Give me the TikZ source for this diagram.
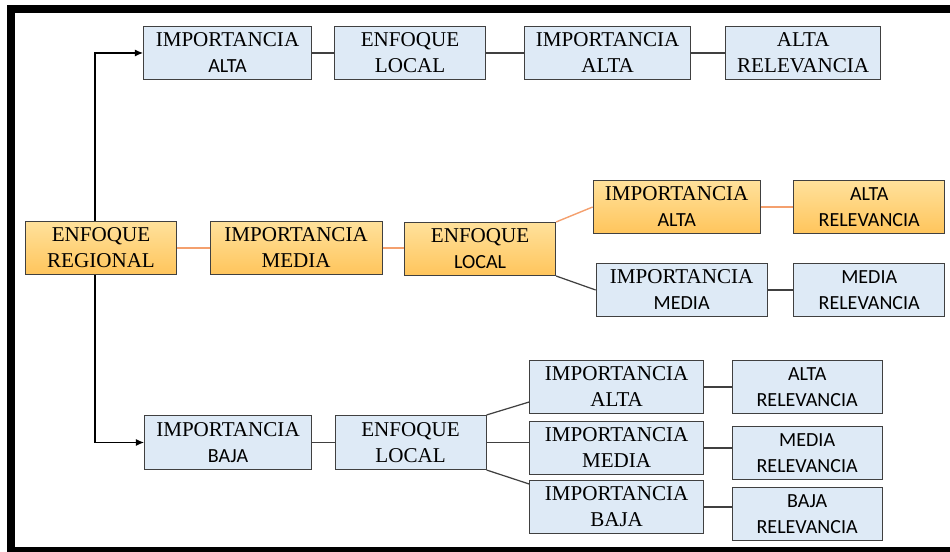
\documentclass[tikz,border=0pt]{standalone}
\usepackage{fontspec}
\setmainfont{Liberation Serif}
\newfontfamily\calib[Scale=0.95]{Carlito}
\usetikzlibrary{positioning,arrows.meta}
\definecolor{azulclaro}{RGB}{222,234,246}
\definecolor{naranjaalto}{RGB}{255,225,155}
\definecolor{naranjabajo}{RGB}{255,197,92}
\definecolor{gris}{RGB}{64,64,64}
\definecolor{lineanaranja}{RGB}{244,160,110}
\tikzset{
    every node/.style={font=\fontsize{12}{14.8}\selectfont},
    azul/.style={draw=gris, fill=azulclaro, line width=0.6pt, align=center, minimum height=1.06cm, inner sep=1pt},
    naranja/.style={draw=gris, top color=naranjaalto, bottom color=naranjabajo, line width=0.6pt, align=center, minimum height=1.06cm, inner sep=1pt},
    sans/.style={font=\fontsize{12}{14.8}\selectfont\calib},
    enlace/.style={draw=gris, line width=0.7pt},
    enlacenar/.style={draw=lineanaranja, line width=0.8pt},
    flecha/.style={-{Latex[length=1.6mm,width=1.4mm]}, draw=black, line width=0.6pt},
}

\begin{document}
\begin{tikzpicture}
   \useasboundingbox (0,0) rectangle (19,-11.04);
% marco negro (sin lado derecho)
   \draw[line width=0.16cm] (19,-0.18) -- (0.22,-0.18) -- (0.22,-11.01) -- (19,-11.01);
% fila superior
   \node[azul, minimum width=3.36cm] (ia1) at (4.55,-1.06) {IMPORTANCIA\\{\calib ALTA}};
   \node[azul, minimum width=3.02cm, right=0.44cm of ia1] (el1) {ENFOQUE\\LOCAL};
   \node[azul, minimum width=3.32cm, right=0.76cm of el1] (ia2) {IMPORTANCIA\\ALTA};
   \node[azul, minimum width=3.1cm, right=0.68cm of ia2] (ar1) {ALTA\\RELEVANCIA};
% fila del medio
   \node[naranja, minimum width=3.02cm] (er) at (2.02,-4.96) {ENFOQUE\\REGIONAL};
   \node[naranja, minimum width=3.44cm, right=0.65cm of er] (im) {IMPORTANCIA\\MEDIA};
   \node[naranja, minimum width=3.02cm, right=0.43cm of im, yshift=-0.02cm] (el2) {ENFOQUE\\{\calib LOCAL}};
   \node[naranja, minimum width=3.34cm, right=0.73cm of el2, yshift=0.84cm] (ia4) {IMPORTANCIA\\{\calib ALTA}};
   \node[naranja, sans, minimum width=3.02cm, right=0.65cm of ia4] (ar4) {ALTA\\RELEVANCIA};
   \node[azul, minimum width=3.42cm, right=0.79cm of el2, yshift=-0.82cm] (im4) {IMPORTANCIA\\{\calib MEDIA}};
   \node[azul, sans, minimum width=3.02cm, right=0.51cm of im4] (mr4) {MEDIA\\RELEVANCIA};
% fila inferior
   \node[azul, minimum width=3.34cm, minimum height=1.08cm] (ib) at (4.56,-8.85) {IMPORTANCIA\\{\calib BAJA}};
   \node[azul, minimum width=3.02cm, minimum height=1.08cm, right=0.45cm of ib] (el3) {ENFOQUE\\LOCAL};
   \node[azul, minimum width=3.48cm, right=0.85cm of el3, yshift=1.11cm] (ia5) {IMPORTANCIA\\ALTA};
   \node[azul, minimum width=3.48cm, right=0.85cm of el3, yshift=-0.11cm] (im5) {IMPORTANCIA\\MEDIA};
   \node[azul, minimum width=3.48cm, right=0.85cm of el3, yshift=-1.29cm] (ib5) {IMPORTANCIA\\BAJA};
   \node[azul, sans, minimum width=3.0cm, right=0.55cm of ia5] (ar5) {ALTA\\RELEVANCIA};
   \node[azul, sans, minimum width=3.0cm, right=0.55cm of im5, yshift=-0.1cm] (mr5) {MEDIA\\RELEVANCIA};
   \node[azul, sans, minimum width=3.0cm, right=0.55cm of ib5, yshift=-0.14cm] (br5) {BAJA\\RELEVANCIA};
% flechas desde el enfoque regional
   \draw[flecha] ([xshift=-0.12cm]er.north) |- (ia1);
   \draw[flecha] ([xshift=-0.12cm]er.south) |- (ib);
% lineas
   \draw[enlace] (ia1) -- (el1);
   \draw[enlace] (el1) -- (ia2);
   \draw[enlace] (ia2) -- (ar1);
   \draw[enlacenar] (er) -- (im);
   \draw[enlacenar] (im.east) -- (im.east -| el2.west);
   \draw[enlacenar] (el2.north east) -- (ia4.west);
   \draw[enlacenar] (ia4) -- (ar4);
   \draw[enlace] (el2.south east) -- (im4.west);
   \draw[enlace] (im4) -- (mr4);
   \draw[enlace] (ib) -- (el3);
   \draw[enlace] (el3.north east) -- ([yshift=0.24cm]ia5.south west);
   \draw[enlace] (el3.east) -- (el3.east -| im5.west);
   \draw[enlace] (el3.south east) -- ([yshift=-0.08cm]ib5.north west);
   \draw[enlace] (ia5) -- (ar5);
   \draw[enlace] (im5.east) -- (im5.east -| mr5.west);
   \draw[enlace] (ib5.east) -- (ib5.east -| br5.west);
\end{tikzpicture}
\end{document}
